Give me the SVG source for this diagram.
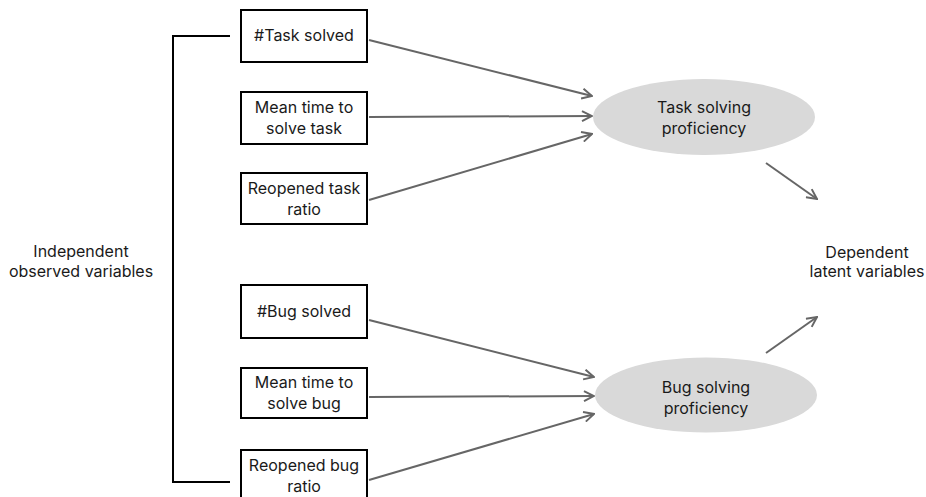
<svg xmlns="http://www.w3.org/2000/svg" width="926" height="497" viewBox="0 0 926 497">
<style>
text{font-family:Inter,"Liberation Sans",sans-serif;font-size:16px;fill:#1a1a1a;text-anchor:middle}
.box{fill:#fff;stroke:#000;stroke-width:2}
.lat{fill:#d9d9d9;stroke:none}
.arr{stroke:#666;stroke-width:2;fill:none;marker-end:url(#ah)}
.br{stroke:#000;stroke-width:2;fill:none}
</style>
<defs>
<marker id="ah" viewBox="0 0 12 12" refX="11" refY="6" markerWidth="12" markerHeight="12" markerUnits="userSpaceOnUse" orient="auto">
<path d="M1,1 L11,6 L1,11" fill="none" stroke="#666" stroke-width="2"/>
</marker>
</defs>
<g id="bracket"><path class="br" d="M230,36 H173 V482 H230"/></g>
<g id="label-independent"><text x="81" y="257">Independent</text><text x="81" y="277">observed variables</text></g>
<g id="label-dependent"><text x="867" y="258">Dependent</text><text x="867" y="277">latent variables</text></g>
<g id="task-solved"><rect class="box" x="241" y="10" width="126" height="52"/><text x="304" y="41">#Task solved</text></g>
<g id="mean-time-task"><rect class="box" x="241" y="92" width="126" height="52"/><text x="304" y="113">Mean time to</text><text x="304" y="134">solve task</text></g>
<g id="reopened-task"><rect class="box" x="241" y="173" width="126" height="51"/><text x="304" y="194">Reopened task</text><text x="304" y="215">ratio</text></g>
<g id="bug-solved"><rect class="box" x="241" y="285" width="126" height="53"/><text x="304" y="317">#Bug solved</text></g>
<g id="mean-time-bug"><rect class="box" x="241" y="368" width="126" height="50"/><text x="304" y="388">Mean time to</text><text x="304" y="409">solve bug</text></g>
<g id="reopened-bug"><rect class="box" x="241" y="450" width="126" height="52"/><text x="304" y="471">Reopened bug</text><text x="304" y="492">ratio</text></g>
<g id="task-proficiency"><ellipse class="lat" cx="704" cy="117" rx="111" ry="38"/><text x="704" y="113">Task solving</text><text x="704" y="134">proficiency</text></g>
<g id="bug-proficiency"><ellipse class="lat" cx="706" cy="395" rx="111" ry="37.5"/><text x="706" y="393">Bug solving</text><text x="706" y="414">proficiency</text></g>
<g id="connectors">
<line class="arr" x1="369" y1="40" x2="592" y2="96"/>
<line class="arr" x1="369" y1="117" x2="592" y2="116"/>
<line class="arr" x1="369" y1="200" x2="592" y2="134"/>
<line class="arr" x1="369" y1="320" x2="594" y2="377"/>
<line class="arr" x1="369" y1="397" x2="594" y2="396"/>
<line class="arr" x1="369" y1="480" x2="594" y2="414"/>
<line class="arr" x1="766" y1="163" x2="817" y2="199"/>
<line class="arr" x1="766" y1="353" x2="817" y2="317"/>
</g>
</svg>
